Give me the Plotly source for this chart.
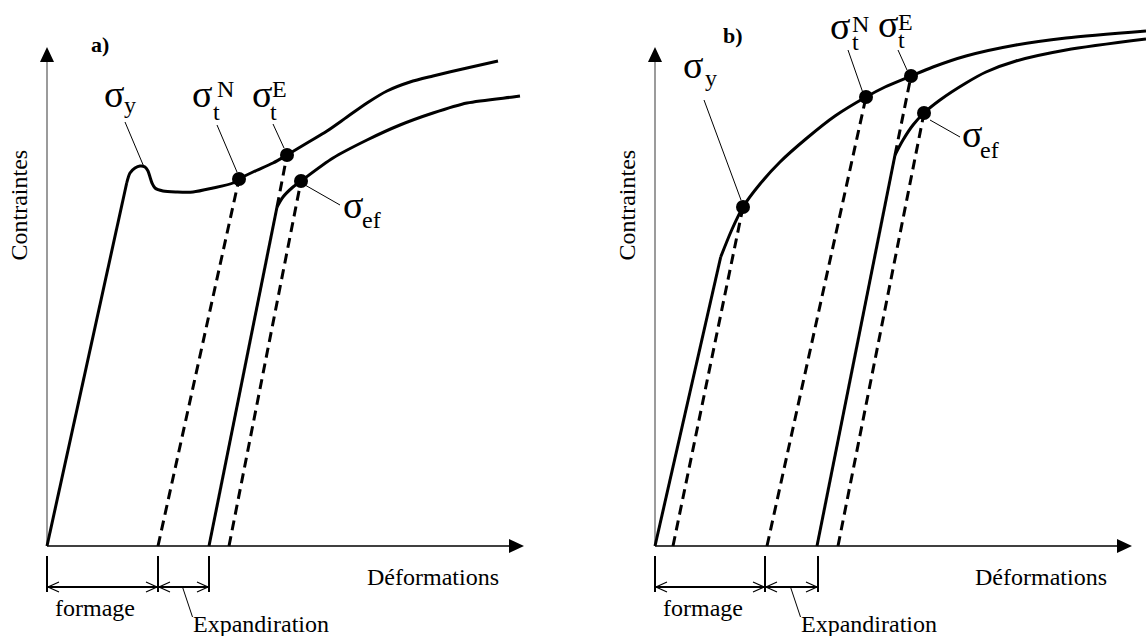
import plotly.graph_objects as go

# ---------------------------------------------------------------------------
# Strain (Déformations) / stress (Contraintes) curves, arbitrary units
# ---------------------------------------------------------------------------

# a) material with a yield point
A_LOAD_EPS = [0.0, 0.797]
A_LOAD_SIG = [0.0, 3.63]
A_CURVE_EPS = [0.797, 0.83, 0.88, 0.93, 0.98, 1.01, 1.03, 1.05, 1.08, 1.16, 1.30, 1.46,
               1.66, 1.86, 1.92, 2.06, 2.26, 2.40, 2.60, 2.80, 3.00, 3.20, 3.40, 3.63,
               3.86, 4.20, 4.51]
A_CURVE_SIG = [3.63, 3.73, 3.78, 3.80, 3.79, 3.75, 3.69, 3.63, 3.58, 3.55, 3.54, 3.54,
               3.58, 3.63, 3.67, 3.74, 3.83, 3.91, 4.03, 4.15, 4.29, 4.43, 4.55, 4.64,
               4.70, 4.78, 4.85]
A_RELOAD_EPS = [1.62, 2.30]
A_RELOAD_SIG = [0.0, 3.39]
A_RECURVE_EPS = [2.30, 2.36, 2.46, 2.54, 2.86, 3.20, 3.53, 3.86, 4.20, 4.66, 4.73]
A_RECURVE_SIG = [3.39, 3.49, 3.59, 3.65, 3.88, 4.06, 4.21, 4.33, 4.43, 4.49, 4.50]
# unloading / extension lines (dashed): start -> end
A_DASH_EPS0 = [1.11, 2.30, 1.82]
A_DASH_SIG0 = [0.0, 3.39, 0.0]
A_DASH_EPS1 = [1.92, 2.40, 2.54]
A_DASH_SIG1 = [3.67, 3.91, 3.65]
# marked stresses: sigma_y (peak, no dot), sigma_t^N, sigma_t^E, sigma_ef
A_PT_EPS = [0.97, 1.92, 2.40, 2.54]
A_PT_SIG = [3.79, 3.67, 3.91, 3.65]
A_PT_DOT = [False, True, True, True]
A_STEPS = [0.0, 1.11, 1.62]

# b) continuously hardening material
B_LOAD_EPS = [0.0, 0.657]
B_LOAD_SIG = [0.0, 2.89]
B_CURVE_EPS = [0.657, 0.767, 0.88, 1.05, 1.25, 1.52, 1.80, 2.11, 2.30, 2.56, 2.78, 3.11,
               3.61, 4.11, 4.91]
B_CURVE_SIG = [2.89, 3.16, 3.39, 3.62, 3.84, 4.08, 4.30, 4.49, 4.59, 4.70, 4.79, 4.90,
               5.01, 5.08, 5.15]
B_RELOAD_EPS = [1.62, 2.40]
B_RELOAD_SIG = [0.0, 3.91]
B_RECURVE_EPS = [2.40, 2.48, 2.58, 2.69, 2.85, 3.11, 3.31, 3.61, 4.11, 4.91]
B_RECURVE_SIG = [3.91, 4.06, 4.21, 4.33, 4.46, 4.63, 4.74, 4.85, 4.96, 5.07]
B_DASH_EPS0 = [0.18, 1.12, 2.40, 1.83]
B_DASH_SIG0 = [0.0, 0.0, 3.91, 0.0]
B_DASH_EPS1 = [0.88, 2.11, 2.56, 2.69]
B_DASH_SIG1 = [3.39, 4.49, 4.70, 4.33]
B_PT_EPS = [0.88, 2.11, 2.56, 2.69]
B_PT_SIG = [3.39, 4.49, 4.70, 4.33]
B_PT_DOT = [True, True, True, True]
B_STEPS = [0.0, 1.10, 1.63]

STEP_NAMES = ["formage", "Expandiration"]
AXIS_X_NAME = "Déformations"
AXIS_Y_NAME = "Contraintes"
PANEL_NAMES = ["a)", "b)"]

# ---------------------------------------------------------------------------
# Layout / style
# ---------------------------------------------------------------------------
W, H = 1146, 636
FONT = "Liberation Serif, DejaVu Serif, Times New Roman, serif"
CURVE_W = 3
X_TIP, Y_TIP = 4.77, 4.99          # axis arrow tips
DIM_SIG = -0.41                    # dimension line level
TICK_TOP, TICK_BOT = -0.10, -0.46

# label parts per marked point: (text, size, dx px, baseline px below point)
A_LABELS = [
    dict(parts=[("σ", 38, -40, -60), ("y", 24, -20, -54)],
         lead=((-19, 45), (0, 0))),
    dict(parts=[("σ", 38, -47, -72), ("t", 24, -26, -59), ("N", 24, -22, -82)],
         lead=((-22, 54), (-2, 7))),
    dict(parts=[("σ", 38, -35, -48), ("t", 24, -17, -35), ("E", 24, -15, -58)],
         lead=((-14, 31), (-3, 7))),
    dict(parts=[("σ", 38, 42, 37), ("ef", 24, 61, 47)],
         lead=((4, -4), (39, -24))),
]
B_LABELS = [
    dict(parts=[("σ", 38, -60, -129), ("y", 24, -38, -121)],
         lead=((-39, 107), (-2, 7))),
    dict(parts=[("σ", 38, -36, -58), ("t", 24, -14, -47), ("N", 24, -14, -65)],
         lead=((-18, 47), (-3, 4))),
    dict(parts=[("σ", 38, -33, -39), ("t", 24, -13, -28), ("E", 24, -13, -46)],
         lead=((-13, 26), (-4, 6))),
    dict(parts=[("σ", 38, 38, 34), ("ef", 24, 56, 45)],
         lead=((6, -7), (36, -24))),
]

fig = go.Figure()
shapes, annotations = [], []


def segs(e0, s0, e1, s1):
    xs, ys = [], []
    for a, b, c, d in zip(e0, s0, e1, s1):
        xs += [a, c, None]
        ys += [b, d, None]
    return xs, ys


def text(xr, yr, x, y, t, size, dx=0, dy=0, xanchor="center", angle=0, bold=False):
    if bold:
        t = "<b>" + t + "</b>"
    annotations.append(dict(
        xref=xr, yref=yr, x=x, y=y, text=t, showarrow=False,
        xanchor=xanchor, yanchor="middle", xshift=dx, yshift=dy, textangle=angle,
        font=dict(family=FONT, size=size, color="black"),
        borderpad=0, borderwidth=0))


def pix_shape(xr, yr, x, y, **kw):
    d = dict(xref=xr, yref=yr, xsizemode="pixel", ysizemode="pixel",
             xanchor=x, yanchor=y)
    d.update(kw)
    shapes.append(d)


def panel(k, load, curve, reload_, recurve, dashes, pts, dots, steps, labels, title_pos):
    xr = "x" if k == 0 else "x%d" % (k + 1)
    yr = "y" if k == 0 else "y%d" % (k + 1)

    # axes with arrow heads
    fig.add_trace(go.Scatter(x=[0, 0], y=[0, Y_TIP - 0.12], mode="lines",
                             line=dict(color="#7a7a7a", width=1.5), xaxis=xr, yaxis=yr))
    fig.add_trace(go.Scatter(x=[0, X_TIP - 0.12], y=[0, 0], mode="lines",
                             line=dict(color="black", width=1.5), xaxis=xr, yaxis=yr))
    pix_shape(xr, yr, 0, Y_TIP, type="path", path="M0,0 L-7,-15 L7,-15 Z",
              fillcolor="black", line=dict(width=0))
    pix_shape(xr, yr, X_TIP, 0, type="path", path="M0,0 L-15,7 L-15,-7 Z",
              fillcolor="black", line=dict(width=0))

    # curves
    for ex, shape in [(load, "linear"), (curve, "spline"),
                      (reload_, "linear"), (recurve, "spline")]:
        fig.add_trace(go.Scatter(x=ex[0], y=ex[1], mode="lines",
                                 line=dict(color="black", width=CURVE_W, shape=shape,
                                           smoothing=0.8),
                                 xaxis=xr, yaxis=yr))
    dx_, dy_ = segs(*dashes)
    fig.add_trace(go.Scatter(x=dx_, y=dy_, mode="lines",
                             line=dict(color="black", width=CURVE_W, dash="10px,6px"),
                             xaxis=xr, yaxis=yr))
    fig.add_trace(go.Scatter(x=[e for e, d in zip(pts[0], dots) if d],
                             y=[s for s, d in zip(pts[1], dots) if d],
                             mode="markers", marker=dict(color="black", size=14),
                             cliponaxis=False, xaxis=xr, yaxis=yr))

    # labels with leader lines
    for e, s, lab in zip(pts[0], pts[1], labels):
        (x0, y0), (x1, y1) = lab["lead"]
        pix_shape(xr, yr, e, s, type="line", x0=x0, y0=y0, x1=x1, y1=y1,
                  line=dict(color="black", width=1))
        for t, size, dx, base in lab["parts"]:
            text(xr, yr, e, s, t, size, dx=dx, dy=0.3375 * size - base, xanchor="left")

    # dimension marks
    for st in steps:
        fig.add_trace(go.Scatter(x=[st, st], y=[TICK_TOP, TICK_BOT], mode="lines",
                                 line=dict(color="black", width=2), xaxis=xr, yaxis=yr))
    fig.add_trace(go.Scatter(x=[steps[0], steps[-1]], y=[DIM_SIG, DIM_SIG], mode="lines",
                             line=dict(color="black", width=2), xaxis=xr, yaxis=yr))
    for a, b in zip(steps[:-1], steps[1:]):
        pix_shape(xr, yr, a, DIM_SIG, type="path", path="M12,5 L1,0 L12,-5",
                  line=dict(color="black", width=1.2))
        pix_shape(xr, yr, b, DIM_SIG, type="path", path="M-12,5 L-1,0 L-12,-5",
                  line=dict(color="black", width=1.2))
    mid = (steps[1] + steps[2]) / 2
    pix_shape(xr, yr, mid, DIM_SIG, type="line", x0=-1, y0=0, x1=9, y1=-30,
              line=dict(color="black", width=1))
    text(xr, yr, (steps[0] + steps[1]) / 2 - 0.075, -0.62, STEP_NAMES[0], 24)
    text(xr, yr, mid + 0.09, -0.78, STEP_NAMES[1], 24, xanchor="left")

    # axis titles and panel tag
    text(xr, yr, 3.855, -0.31, AXIS_X_NAME, 24)
    text(xr, yr, -0.285, 3.41, AXIS_Y_NAME, 24, angle=-90)
    text(xr, yr, title_pos[0], title_pos[1], PANEL_NAMES[k], 22, bold=True)


panel(0, (A_LOAD_EPS, A_LOAD_SIG), (A_CURVE_EPS, A_CURVE_SIG),
      (A_RELOAD_EPS, A_RELOAD_SIG), (A_RECURVE_EPS, A_RECURVE_SIG),
      (A_DASH_EPS0, A_DASH_SIG0, A_DASH_EPS1, A_DASH_SIG1),
      (A_PT_EPS, A_PT_SIG), A_PT_DOT, A_STEPS, A_LABELS, (0.53, 5.02))
panel(1, (B_LOAD_EPS, B_LOAD_SIG), (B_CURVE_EPS, B_CURVE_SIG),
      (B_RELOAD_EPS, B_RELOAD_SIG), (B_RECURVE_EPS, B_RECURVE_SIG),
      (B_DASH_EPS0, B_DASH_SIG0, B_DASH_EPS1, B_DASH_SIG1),
      (B_PT_EPS, B_PT_SIG), B_PT_DOT, B_STEPS, B_LABELS, (0.78, 5.11))

hidden = dict(visible=False, showgrid=False, zeroline=False, fixedrange=True)
fig.update_layout(
    width=W, height=H, autosize=False,
    margin=dict(l=0, r=0, t=0, b=0, pad=0),
    paper_bgcolor="white", plot_bgcolor="white",
    showlegend=False, hovermode=False,
    font=dict(family=FONT, color="black"),
    xaxis=dict(domain=[0, 0.5], range=[-0.47, 5.26], **hidden),
    yaxis=dict(domain=[0, 1], range=[-0.90, 5.46], **hidden),
    xaxis2=dict(domain=[0.5, 1], range=[-0.82, 4.91], **hidden),
    yaxis2=dict(domain=[0, 1], range=[-0.90, 5.46], anchor="x2", **hidden),
    shapes=shapes, annotations=annotations,
)

fig.write_html("out.html")
